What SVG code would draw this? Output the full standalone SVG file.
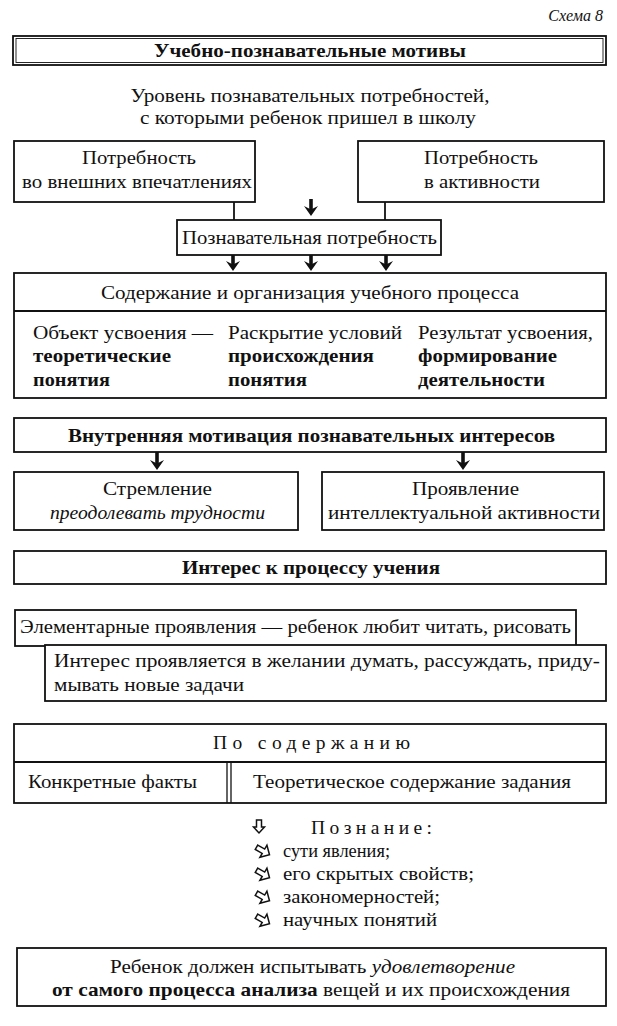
<svg xmlns="http://www.w3.org/2000/svg" width="617" height="1026" viewBox="0 0 617 1026">
<style>
text{font-family:"Liberation Serif","Times New Roman",serif;font-size:19.5px;fill:#111}
.c{text-anchor:middle}
.b{font-weight:bold}
.i{font-style:italic}
.box{fill:#fff;stroke:#111;stroke-width:1.8}
.ln{fill:none;stroke:#111;stroke-width:1.8}
.ar{fill:none;stroke:#111;stroke-width:3.6;marker-end:url(#ah)}
.ico{fill:#fff;stroke:#111;stroke-width:1.5;stroke-linejoin:miter}
</style>
<defs>
<marker id="ah" viewBox="0 0 10 14" refX="5" refY="7" markerWidth="10" markerHeight="14" orient="auto" markerUnits="userSpaceOnUse">
<path d="M0,0 L3.5,7 L0,14 L10,7 Z" fill="#111"/>
</marker>
<path id="dn" d="M-2.5,0 H2.5 V7 H5.5 L0,13 L-5.5,7 H-2.5 Z"/>
<path id="rt" d="M-7.5,-2.5 H0.5 V-7 L7.5,0 L0.5,7 V2.5 H-7.5 Z"/>
</defs>
<rect width="617" height="1026" fill="#fff"/>

<g id="label-schema">
<text x="603" y="21" class="i" style="text-anchor:end;font-size:16px">Схема 8</text>
</g>

<g id="title">
<rect class="box" x="13" y="36" width="593" height="29" stroke-width="2.4"/>
<rect x="16" y="38.5" width="587" height="24" fill="none" stroke="#111" stroke-width="0.9"/>
<text x="310" y="57" class="c b" textLength="312" lengthAdjust="spacingAndGlyphs">Учебно-познавательные мотивы</text>
</g>

<g id="level">
<text x="310" y="102" class="c" textLength="359" lengthAdjust="spacingAndGlyphs">Уровень познавательных потребностей,</text>
<text x="308" y="124" class="c" textLength="336" lengthAdjust="spacingAndGlyphs">с которыми ребенок пришел в школу</text>
</g>

<g id="need-external">
<rect class="box" x="14" y="141" width="241" height="61"/>
<text x="139" y="164" class="c" textLength="114" lengthAdjust="spacingAndGlyphs">Потребность</text>
<text x="137" y="188" class="c" textLength="230" lengthAdjust="spacingAndGlyphs">во внешних впечатлениях</text>
</g>

<g id="need-activity">
<rect class="box" x="358" y="141" width="246" height="61"/>
<text x="481" y="164" class="c" textLength="114" lengthAdjust="spacingAndGlyphs">Потребность</text>
<text x="482" y="188" class="c" textLength="116" lengthAdjust="spacingAndGlyphs">в активности</text>
</g>

<g id="connectors">
<line class="ln" x1="234" y1="202" x2="234" y2="220"/>
<line class="ln" x1="385" y1="202" x2="385" y2="220"/>
<line class="ar" x1="311" y1="199" x2="311" y2="211"/>
<line class="ar" x1="233" y1="255" x2="233" y2="266"/>
<line class="ar" x1="311" y1="255" x2="311" y2="266"/>
<line class="ar" x1="386" y1="255" x2="386" y2="266"/>
<line class="ar" x1="157" y1="452" x2="157" y2="465"/>
<line class="ar" x1="463" y1="452" x2="463" y2="465"/>
</g>

<g id="cognitive-need">
<rect class="box" x="177" y="220" width="264" height="35"/>
<text x="309.5" y="244" class="c" textLength="255" lengthAdjust="spacingAndGlyphs">Познавательная потребность</text>
</g>

<g id="content-organization">
<rect class="box" x="14" y="273" width="592" height="125"/>
<line class="ln" x1="14" y1="311" x2="606" y2="311"/>
<text x="310" y="299" class="c" textLength="418" lengthAdjust="spacingAndGlyphs">Содержание и организация учебного процесса</text>
<text x="33" y="339" textLength="180" lengthAdjust="spacingAndGlyphs">Объект усвоения —</text>
<text x="33" y="362" class="b" textLength="138" lengthAdjust="spacingAndGlyphs">теоретические</text>
<text x="33" y="386" class="b" textLength="77" lengthAdjust="spacingAndGlyphs">понятия</text>
<text x="228" y="339" textLength="174" lengthAdjust="spacingAndGlyphs">Раскрытие условий</text>
<text x="228" y="362" class="b" textLength="146" lengthAdjust="spacingAndGlyphs">происхождения</text>
<text x="228" y="386" class="b" textLength="79" lengthAdjust="spacingAndGlyphs">понятия</text>
<text x="418" y="339" textLength="175" lengthAdjust="spacingAndGlyphs">Результат усвоения,</text>
<text x="418" y="362" class="b" textLength="139" lengthAdjust="spacingAndGlyphs">формирование</text>
<text x="418" y="386" class="b" textLength="127" lengthAdjust="spacingAndGlyphs">деятельности</text>
</g>

<g id="inner-motivation">
<rect class="box" x="14" y="418" width="592" height="34"/>
<text x="311.5" y="442" class="c b" textLength="487" lengthAdjust="spacingAndGlyphs">Внутренняя мотивация познавательных интересов</text>
</g>

<g id="striving">
<rect class="box" x="14" y="472" width="284" height="58"/>
<text x="157.5" y="495" class="c" textLength="109" lengthAdjust="spacingAndGlyphs">Стремление</text>
<text x="157.5" y="519" class="c i" textLength="215" lengthAdjust="spacingAndGlyphs">преодолевать трудности</text>
</g>

<g id="manifestation">
<rect class="box" x="322" y="472" width="282" height="58"/>
<text x="465.5" y="495" class="c" textLength="107" lengthAdjust="spacingAndGlyphs">Проявление</text>
<text x="464" y="519" class="c" textLength="272" lengthAdjust="spacingAndGlyphs">интеллектуальной активности</text>
</g>

<g id="interest-learning">
<rect class="box" x="14" y="551" width="592" height="33"/>
<text x="311" y="574" class="c b" textLength="258" lengthAdjust="spacingAndGlyphs">Интерес к процессу учения</text>
</g>

<g id="elementary">
<rect class="box" x="15" y="610" width="561" height="36"/>
<text x="20" y="633" textLength="551" lengthAdjust="spacingAndGlyphs">Элементарные проявления — ребенок любит читать, рисовать</text>
</g>

<g id="interest-thinking">
<rect class="box" x="45" y="645" width="561" height="56"/>
<text x="54" y="667" textLength="546" lengthAdjust="spacingAndGlyphs">Интерес проявляется в желании думать, рассуждать, приду-</text>
<text x="54" y="691" textLength="190" lengthAdjust="spacingAndGlyphs">мывать новые задачи</text>
</g>

<g id="by-content">
<rect class="box" x="14" y="724" width="592" height="79"/>
<line class="ln" x1="14" y1="762" x2="606" y2="762"/>
<line x1="227" y1="762" x2="227" y2="803" stroke="#111" stroke-width="1.3"/>
<line x1="231" y1="762" x2="231" y2="803" stroke="#111" stroke-width="1.3"/>
<text x="213" y="749" textLength="197" lengthAdjust="spacing">По содержанию</text>
<text x="28" y="788" textLength="169" lengthAdjust="spacingAndGlyphs">Конкретные факты</text>
<text x="253" y="788" textLength="318" lengthAdjust="spacingAndGlyphs">Теоретическое содержание задания</text>
</g>

<g id="cognition">
<use href="#dn" class="ico" transform="translate(259,820)"/>
<text x="311" y="834" textLength="121" lengthAdjust="spacing">Познание:</text>
<use href="#rt" class="ico" transform="translate(263,851) rotate(30)"/>
<text x="283" y="857" textLength="107" lengthAdjust="spacingAndGlyphs">сути явления;</text>
<use href="#rt" class="ico" transform="translate(263,874) rotate(30)"/>
<text x="283" y="880" textLength="191" lengthAdjust="spacingAndGlyphs">его скрытых свойств;</text>
<use href="#rt" class="ico" transform="translate(263,897) rotate(30)"/>
<text x="283" y="903" textLength="157" lengthAdjust="spacingAndGlyphs">закономерностей;</text>
<use href="#rt" class="ico" transform="translate(263,920) rotate(30)"/>
<text x="283" y="926" textLength="154" lengthAdjust="spacingAndGlyphs">научных понятий</text>
</g>

<g id="satisfaction">
<rect class="box" x="17" y="948" width="589" height="58"/>
<text x="110" y="973" textLength="405" lengthAdjust="spacingAndGlyphs">Ребенок должен испытывать <tspan class="i">удовлетворение</tspan></text>
<text x="52" y="996" textLength="518" lengthAdjust="spacingAndGlyphs"><tspan class="b">от самого процесса анализа</tspan> вещей и их происхождения</text>
</g>
</svg>
